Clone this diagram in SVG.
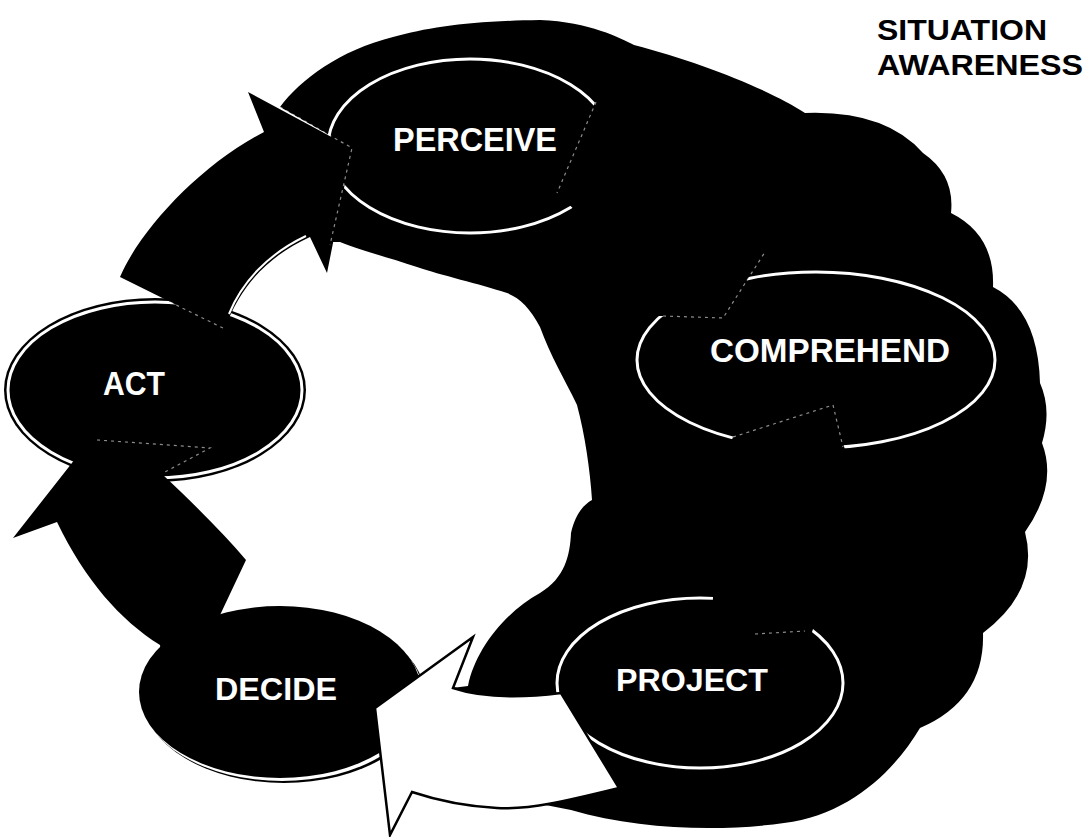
<svg xmlns="http://www.w3.org/2000/svg" width="1086" height="837" viewBox="0 0 1086 837">
<style>
.lbl{font-family:"Liberation Sans",Arial,sans-serif;font-weight:bold;fill:#fff;text-anchor:middle}
.title{font-family:"Liberation Sans",Arial,sans-serif;font-weight:bold;fill:#000}
.ring{fill:#000;stroke:#fff;stroke-width:3}
.blk{fill:#000}
.edge{fill:none;stroke:#fff;stroke-width:1.2;stroke-dasharray:3 4;opacity:.55}
.warrow{fill:#fff;stroke:#000;stroke-width:2.5;stroke-linejoin:miter}
</style>
<rect width="1086" height="837" fill="#fff"/>
<g id="awareness-region">
<path class="blk" d="M280,107 C300,80 340,50 393,37 C430,27 470,21 540,20 C590,22 620,38 634,45 C700,62 770,90 805,113 Q885,110 923,153 Q955,175 951,213 Q995,235 993,287 Q1038,310 1040,383 Q1052,410 1042,443 Q1058,485 1025,532 Q1040,590 983,633 Q985,700 920,728 C895,770 850,815 784,823 C720,832 640,830 571,810 L520,800 L462,700 L452,688 L468,686 C475,650 505,612 540,593 C565,578 570,555 571,533 C575,515 583,505 592,500 C590,470 585,435 577,405 C565,380 550,355 540,327 C530,308 520,298 507,293 C480,284 440,275 417,267 C390,258 360,250 340,242 L330,242 L352,148 Z"/>
</g>
<g id="title">
<text class="title" x="877" y="40" font-size="29" textLength="170" lengthAdjust="spacingAndGlyphs">SITUATION</text>
<text class="title" x="877" y="75" font-size="29" textLength="206" lengthAdjust="spacingAndGlyphs">AWARENESS</text>
</g>
<g id="node-perceive">
<ellipse class="ring" cx="470" cy="146" rx="142" ry="87"/>
<text class="lbl" x="475" y="151" font-size="33" textLength="164" lengthAdjust="spacingAndGlyphs">PERCEIVE</text>
</g>
<g id="node-comprehend">
<ellipse class="ring" cx="816" cy="360" rx="179" ry="88"/>
<text class="lbl" x="830" y="362" font-size="34" textLength="240" lengthAdjust="spacingAndGlyphs">COMPREHEND</text>
</g>
<g id="node-project">
<ellipse class="ring" cx="700" cy="683" rx="143" ry="85"/>
<text class="lbl" x="692" y="691" font-size="32" textLength="152" lengthAdjust="spacingAndGlyphs">PROJECT</text>
</g>
<g id="node-act">
<ellipse class="blk" cx="155" cy="390" rx="151" ry="92"/>
<ellipse class="ring" cx="155" cy="390" rx="147" ry="88"/>
<text class="lbl" x="134" y="395" font-size="34" textLength="62" lengthAdjust="spacingAndGlyphs">ACT</text>
</g>
<g id="node-decide">
<ellipse class="blk" cx="284" cy="697" rx="141" ry="86"/>
<ellipse cx="282" cy="695" rx="141" ry="86" fill="#fff"/>
<ellipse class="blk" cx="280" cy="692" rx="141" ry="86"/>
<text class="lbl" x="276" y="700" font-size="31" textLength="122" lengthAdjust="spacingAndGlyphs">DECIDE</text>
</g>
<g id="connectors">
<path id="perceive-to-comprehend" class="blk" d="M596,100 L557,193 L580,215 C610,250 630,290 640,316 L663,316 L723,318 L765,252 C720,200 680,160 640,95 Z"/>
<path id="comprehend-to-project" class="blk" d="M733,437 L833,405 L845,450 C850,520 830,580 812,632 L755,634 L712,625 L713,597 C705,540 715,480 733,437 Z"/>
<path id="act-to-perceive" class="blk" d="M120,277 C140,230 200,165 264,132 L248,92 L352,148 L327,273 L310,237 C270,255 240,285 225,329 Z"/>
<path fill="none" stroke="#fff" stroke-width="2" d="M306,236 C268,254 242,282 229,314"/>
<path id="decide-to-act" class="blk" d="M13,538 L90,440 L210,448 L163,475 C195,505 225,535 246,560 L221,613 L200,660 L162,660 L160,645 C120,620 85,580 57,522 Z"/>
<path id="project-to-decide" class="warrow" d="M375,708 L473,637 L453,688 C480,697 520,698 561,693 L619,788 C570,800 530,810 497,808 C460,806 430,798 412,792 L390,835 Z"/>
<path class="edge" d="M280,107 L352,148 L330,245"/>
<path class="edge" d="M596,102 L557,193"/>
<path class="edge" d="M663,316 L723,318 L765,252"/>
<path class="edge" d="M733,437 L833,405 L843,447"/>
<path class="edge" d="M755,634 L805,631"/>
<path class="edge" d="M170,302 L225,329"/>
<path class="edge" d="M97,440 L210,448 L163,473"/>
</g>
</svg>
